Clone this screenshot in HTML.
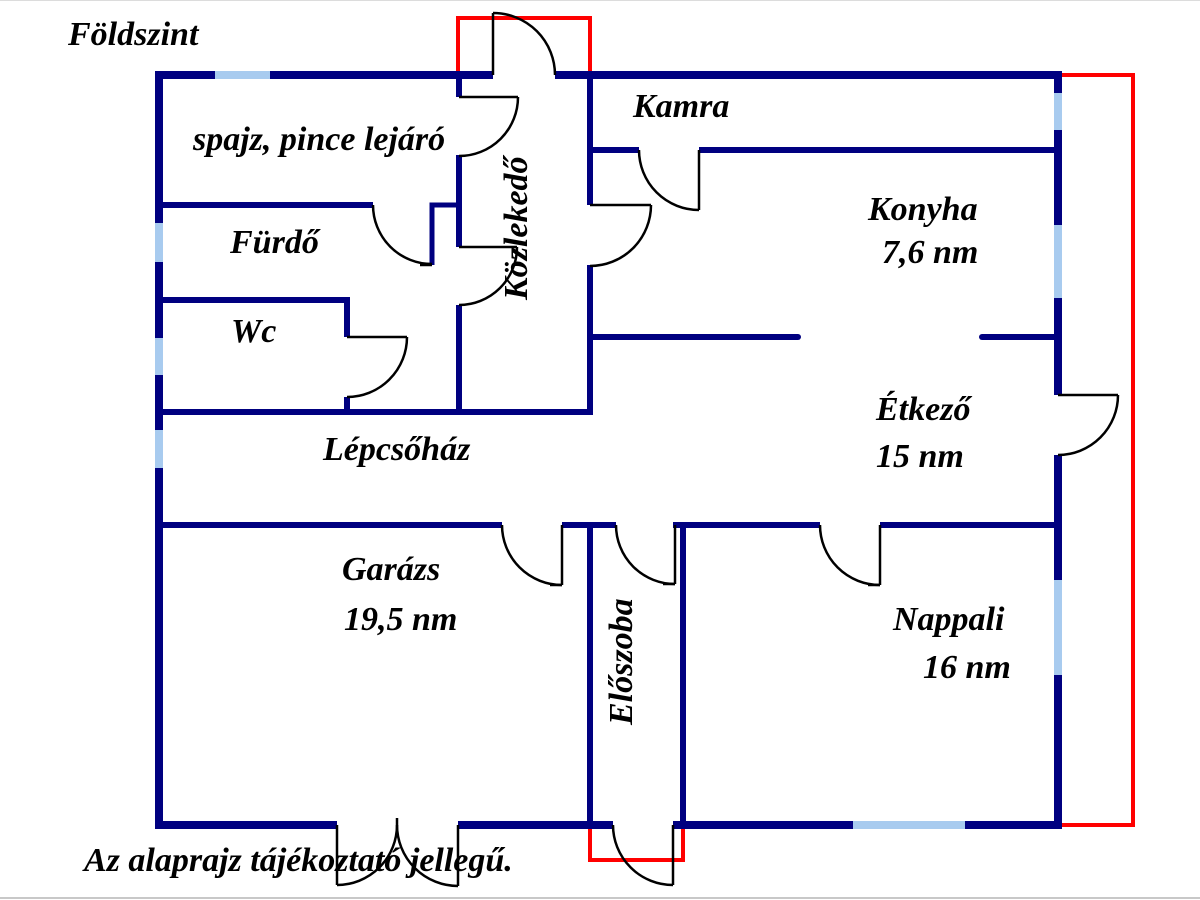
<!DOCTYPE html>
<html>
<head>
<meta charset="utf-8">
<style>
  html, body { margin: 0; padding: 0; background: #ffffff; }
  body { width: 1200px; height: 900px; overflow: hidden; }
  svg { display: block; }
  text { font-family: "Liberation Serif", "DejaVu Serif", serif; font-weight: bold; font-style: italic; font-size: 34px; fill: #000; }
</style>
</head>
<body>
<svg width="1200" height="900" viewBox="0 0 1200 900" xmlns="http://www.w3.org/2000/svg">
  <rect x="0" y="0" width="1200" height="900" fill="#ffffff"/>
  <line x1="0" y1="0.5" x2="1200" y2="0.5" stroke="#dcdcdc" stroke-width="1"/>
  <line x1="0" y1="898" x2="1200" y2="898" stroke="#c8c8c8" stroke-width="2"/>

  <!-- red outline lines -->
  <g stroke="#ff0000" stroke-width="4" fill="none" stroke-linejoin="miter" stroke-linecap="butt">
    <path d="M458 75 V18 H590 V75"/>
    <path d="M1058 75 H1133 V825 H1058"/>
    <path d="M590 825 V860 H683 V825"/>
  </g>

  <!-- outer walls -->
  <g stroke="#000080" fill="none" stroke-linejoin="miter" stroke-linecap="butt">
    <path stroke-width="8" d="M337 825 H159 V75 H493 M555 75 H1062 M1058 71 V395 M1058 455 V829 M1062 825 H673 M613 825 H458"/>
  </g>

  <!-- windows -->
  <g stroke="#a8cbef" stroke-width="8" fill="none" stroke-linecap="butt">
    <path d="M215 75 H270"/>
    <path d="M159 223 V262"/>
    <path d="M159 338 V375"/>
    <path d="M159 430 V468"/>
    <path d="M1058 93 V130"/>
    <path d="M1058 225 V298"/>
    <path d="M1058 580 V675"/>
    <path d="M853 825 H965"/>
  </g>

  <!-- interior walls -->
  <g stroke="#000080" stroke-width="6" fill="none" stroke-linejoin="miter" stroke-linecap="butt">
    <path d="M459 75 V97"/>
    <path d="M459 155 V247"/>
    <path d="M459 305 V415"/>
    <path d="M159 205 H373"/>
    <path stroke-width="5" d="M432 265 V205 H462"/>
    <path d="M159 300 H347 V337"/>
    <path d="M347 397 V412"/>
    <path d="M159 412 H593"/>
    <path d="M590 75 V205"/>
    <path d="M590 265 V415"/>
    <path d="M590 150 H639"/>
    <path d="M699 150 H1058"/>
    <path stroke-linecap="round" d="M590 337 H798"/>
    <path stroke-linecap="round" d="M982 337 H1056"/>
    <path d="M159 525 H502"/>
    <path d="M562 525 H616"/>
    <path d="M673 525 H820"/>
    <path d="M880 525 H1058"/>
    <path d="M590 522 V825"/>
    <path d="M683 522 V825"/>
  </g>

  <!-- doors -->
  <g stroke="#000000" stroke-width="2.5" fill="none" stroke-linecap="butt">
    <!-- top entrance -->
    <path d="M493 75 V13"/>
    <path d="M493 13 A62 62 0 0 1 555 75"/>
    <!-- kozlekedo top door -->
    <path d="M459 97 H518"/>
    <path d="M518 97 A59 59 0 0 1 459 156"/>
    <!-- kozlekedo middle door -->
    <path d="M459 247 H517"/>
    <path d="M517 247 A58 58 0 0 1 459 305"/>
    <!-- furdo -->
    <path d="M373 205 A59 59 0 0 0 432 264"/>
    <path d="M420 265 H432"/>
    <!-- wc -->
    <path d="M347 337 H407"/>
    <path d="M407 337 A60 60 0 0 1 347 397"/>
    <!-- kamra -->
    <path d="M699 150 V210"/>
    <path d="M639 150 A60 60 0 0 0 699 210"/>
    <!-- konyha -->
    <path d="M590 205 H651"/>
    <path d="M651 205 A61 61 0 0 1 590 266"/>
    <!-- etkezo exterior -->
    <path d="M1058 395 H1118"/>
    <path d="M1118 395 A60 60 0 0 1 1058 455"/>
    <!-- garazs -->
    <path d="M562 525 V585"/>
    <path d="M502 525 A60 60 0 0 0 562 585"/>
    <path d="M550 585 H562"/>
    <!-- eloszoba top -->
    <path d="M675 525 V584"/>
    <path d="M616 525 A59 59 0 0 0 675 584"/>
    <path d="M663 584 H675"/>
    <!-- nappali -->
    <path d="M880 525 V585"/>
    <path d="M820 525 A60 60 0 0 0 880 585"/>
    <path d="M868 585 H880"/>
    <!-- garage double door -->
    <path d="M337 825 V885"/>
    <path d="M397 825 A60 60 0 0 1 337 885"/>
    <path d="M458 825 V886"/>
    <path d="M397 825 A61 61 0 0 0 458 886"/>
    <path d="M397 825 V818"/>
    <!-- eloszoba bottom -->
    <path d="M673 825 V885"/>
    <path d="M613 825 A60 60 0 0 0 673 885"/>
  </g>

  <!-- labels -->
  <text x="68" y="45">Földszint</text>
  <text x="193" y="150">spajz, pince lejáró</text>
  <text x="230" y="253">Fürdő</text>
  <text x="231" y="342">Wc</text>
  <text x="323" y="460">Lépcsőház</text>
  <text x="633" y="117">Kamra</text>
  <text x="868" y="220">Konyha</text>
  <text x="882" y="263">7,6 nm</text>
  <text x="876" y="420">Étkező</text>
  <text x="876" y="467">15 nm</text>
  <text x="342" y="580">Garázs</text>
  <text x="344" y="630">19,5 nm</text>
  <text x="893" y="630">Nappali</text>
  <text x="923" y="678">16 nm</text>
  <text x="84" y="871">Az alaprajz tájékoztató jellegű.</text>
  <text transform="translate(527,300) rotate(-90)">Közlekedő</text>
  <text transform="translate(632,725) rotate(-90)">Előszoba</text>
</svg>
</body>
</html>
